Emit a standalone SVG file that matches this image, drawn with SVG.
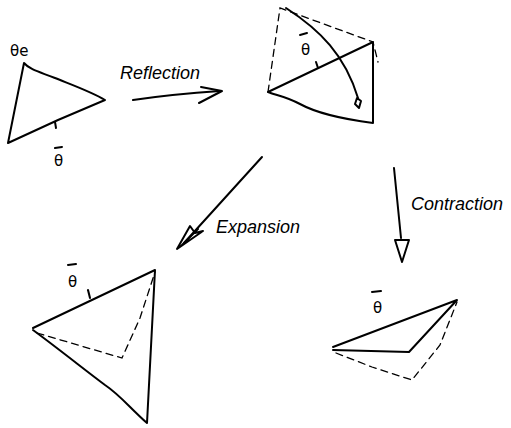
<svg xmlns="http://www.w3.org/2000/svg" width="511" height="428" viewBox="0 0 511 428">
<style>
.s{fill:none;stroke:#000;stroke-width:2;stroke-linecap:round;stroke-linejoin:round}
.d{fill:none;stroke:#000;stroke-width:1.3;stroke-dasharray:7 5;stroke-linecap:round}
.t{font-family:"Liberation Sans",Arial,sans-serif;font-style:italic;font-size:18px;fill:#000}
.g{font-family:"DejaVu Sans",sans-serif;font-size:15px;fill:#000}
</style>
<rect width="511" height="428" fill="#fff"/>
<g id="simplex-initial">
<path class="s" d="M24,63 C30,70 40,72 55,78 C75,86 92,92 105,100 L58,120 L8,143 L24,63"/>
<path class="s" d="M55,122 L56,128"/>
<text class="g" x="10" y="56">θe</text>
<text class="g" x="54" y="166">θ</text>
<path class="s" d="M55,148 L62,147"/>
</g>
<g id="simplex-reflection">
<path class="d" d="M268,92 L280,8 L373,42 L378,62"/>
<path class="s" d="M268,92 L373,42 L373,123 C350,120 320,115 300,104 C285,96 275,95 268,92"/>
<path class="s" d="M316,62 L318,68"/>
<path class="s" d="M286,8 C320,30 345,55 358,98"/>
<path class="s" d="M357,98 L355,104 L359,108 L361,101 Z"/>
<text class="g" x="301" y="55">θ</text>
<path class="s" d="M300,35 L307,33"/>
</g>
<g id="simplex-expansion">
<path class="s" d="M33,328 L155,270 L147,423 C130,408 120,395 105,385 C85,370 60,350 33,330"/>
<path class="d" d="M37,333 L122,358 L140,318 L155,272"/>
<path class="s" d="M88,290 L90,298"/>
<text class="g" x="68" y="287">θ</text>
<path class="s" d="M68,265 L76,264"/>
</g>
<g id="simplex-contraction">
<path class="s" d="M333,347 L457,300 L409,352 L333,350"/>
<path class="d" d="M336,353 L372,367 L412,380 L440,345 L457,302"/>
<text class="g" x="373" y="313">θ</text>
<path class="s" d="M372,292 L381,291"/>
</g>
<g id="connectors">
<path class="s" d="M133,100 C160,96 190,93 220,91"/>
<path class="s" d="M201,87 L222,91 L199,103"/>
<path class="s" d="M262,157 L184,243"/>
<path class="s" d="M177,249 L190,226 L195,233 L203,231 Z M181,246 L198,229"/>
<path class="s" d="M394,168 L401,238"/>
<path class="s" d="M395,240 L409,240 L402,262 Z"/>
</g>
<g id="labels">
<text class="t" x="120" y="79">Reflection</text>
<text class="t" x="216" y="233">Expansion</text>
<text class="t" x="411" y="210">Contraction</text>
</g>
</svg>
